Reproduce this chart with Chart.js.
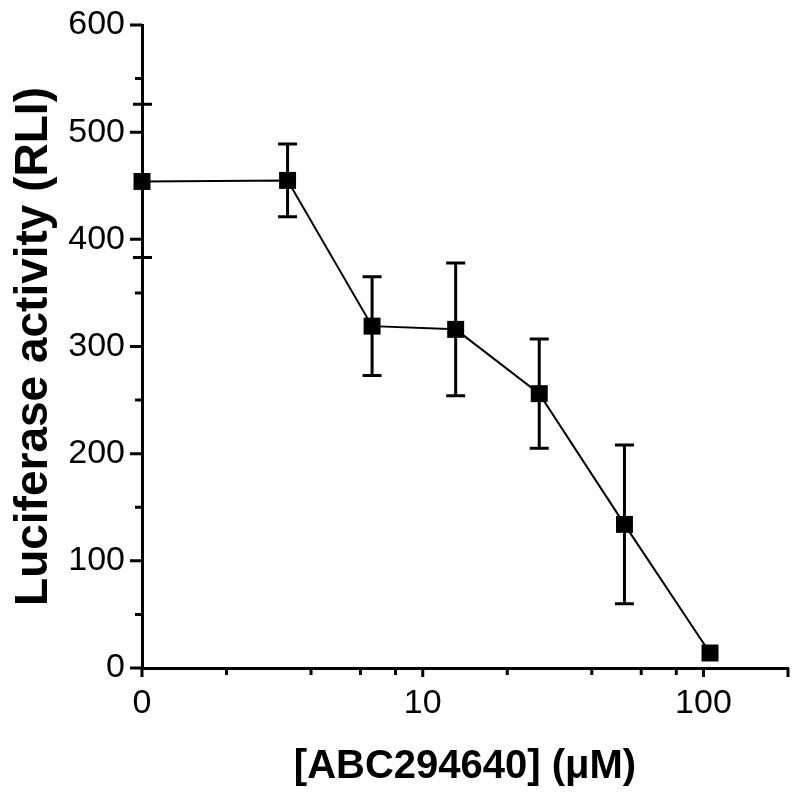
<!DOCTYPE html>
<html><head><meta charset="utf-8">
<script src="https://cdn.jsdelivr.net/npm/chart.js@4/dist/chart.umd.min.js"></script>
<style>html,body{margin:0;padding:0;background:#fff}#wrap{width:800px;height:797px;position:relative}</style>
</head><body><div id="wrap"><canvas id="c"></canvas></div>
<script>
// Data
const concentrations = [1, 3.3, 6.6, 13.1, 26, 52.3, 105.5];  // µM (1 = control, labelled "0")
const activity = [454, 455, 319, 316, 256, 134, 14];         // RLI
const sem = [0, 34, 46, 62, 51, 74, 0];                       // error bar half-length
const xTickValues = [1, 2, 4, 6, 8, 10, 20, 40, 60, 80, 100, 200];
const xTickLabels = {1: '0', 10: '10', 100: '100'};
const yExtraTicks = [526, 383];

const FONT = '"Liberation Sans", Arial, Helvetica, sans-serif';

const errorBars = {
  id: 'errorBars',
  afterDatasetsDraw(chart) {
    const {ctx, scales: {x, y}} = chart;
    ctx.save();
    ctx.strokeStyle = '#000';
    ctx.lineWidth = 3;
    concentrations.forEach((c, i) => {
      const e = sem[i];
      if (!e) return;
      const px = x.getPixelForValue(c);
      const top = y.getPixelForValue(activity[i] + e);
      const bot = y.getPixelForValue(activity[i] - e);
      ctx.beginPath();
      ctx.moveTo(px, top); ctx.lineTo(px, bot);
      ctx.moveTo(px - 9.5, top); ctx.lineTo(px + 9.5, top);
      ctx.moveTo(px - 9.5, bot); ctx.lineTo(px + 9.5, bot);
      ctx.stroke();
    });
    ctx.restore();
  }
};

const axisTicks = {
  id: 'axisTicks',
  afterDraw(chart) {
    const {ctx, scales: {x, y}, chartArea} = chart;
    ctx.save();
    ctx.strokeStyle = '#000';
    ctx.lineWidth = 3;
    ctx.beginPath();
    y.ticks.forEach(t => {
      const py = y.getPixelForValue(t.value);
      const len = t.value % 100 === 0 ? 12 : 7;
      ctx.moveTo(chartArea.left - len, py); ctx.lineTo(chartArea.left, py);
    });
    yExtraTicks.forEach(v => {
      const py = y.getPixelForValue(v);
      ctx.moveTo(chartArea.left - 9, py); ctx.lineTo(chartArea.left + 10, py);
    });
    x.ticks.forEach(t => {
      const px = x.getPixelForValue(t.value);
      const len = xTickLabels[t.value] !== undefined || t.value === 200 ? 9 : 7;
      ctx.moveTo(px, chartArea.bottom); ctx.lineTo(px, chartArea.bottom + len);
    });
    ctx.stroke();
    ctx.restore();
  }
};

new Chart(document.getElementById('c'), {
  type: 'scatter',
  data: {
    datasets: [{
      data: concentrations.map((c, i) => ({x: c, y: activity[i]})),
      showLine: true,
      borderColor: '#000',
      borderWidth: 2,
      pointStyle: 'rect',
      pointRadius: 12,
      pointHoverRadius: 12,
      pointBackgroundColor: '#000',
      pointBorderColor: '#000',
      pointBorderWidth: 0,
      clip: false
    }]
  },
  options: {
    responsive: true,
    maintainAspectRatio: false,
    animation: false,
    events: [],
    layout: {padding: {top: 25, right: 6, left: 0, bottom: 0}},
    plugins: {legend: {display: false}, tooltip: {enabled: false}},
    scales: {
      x: {
        type: 'logarithmic',
        min: 1, max: 200,
        afterBuildTicks: s => { s.ticks = xTickValues.map(v => ({value: v})); },
        afterFit: s => { s.height = 129; s.paddingLeft = 0; s.paddingRight = 0; },
        grid: {display: true, drawOnChartArea: false, drawTicks: false, color: '#000'},
        border: {display: true, width: 3, color: '#000'},
        ticks: {
          autoSkip: false, maxRotation: 0, padding: 15, color: '#000',
          font: {family: FONT, size: 34},
          callback: v => xTickLabels[v] ?? ''
        },
        title: {display: true, text: '[ABC294640] (μM)', color: '#000',
          font: {family: FONT, size: 40, weight: 'bold'}, padding: {top: 0, bottom: 6}}
      },
      y: {
        min: 0, max: 600,
        afterFit: s => { s.width = 142; s.paddingTop = 0; s.paddingBottom = 0; },
        grid: {display: true, drawOnChartArea: false, drawTicks: false, color: '#000'},
        border: {display: true, width: 3, color: '#000'},
        ticks: {
          stepSize: 50, autoSkip: false, padding: 17, color: '#000',
          font: {family: FONT, size: 34},
          callback: v => (v % 100 === 0 ? v : '')
        },
        title: {display: true, text: 'Luciferase activity (RLI)', color: '#000',
          font: {family: FONT, size: 46, weight: 'bold'}, padding: {top: 7, bottom: 0}}
      }
    }
  },
  plugins: [errorBars, axisTicks]
});
</script>
</body></html>
